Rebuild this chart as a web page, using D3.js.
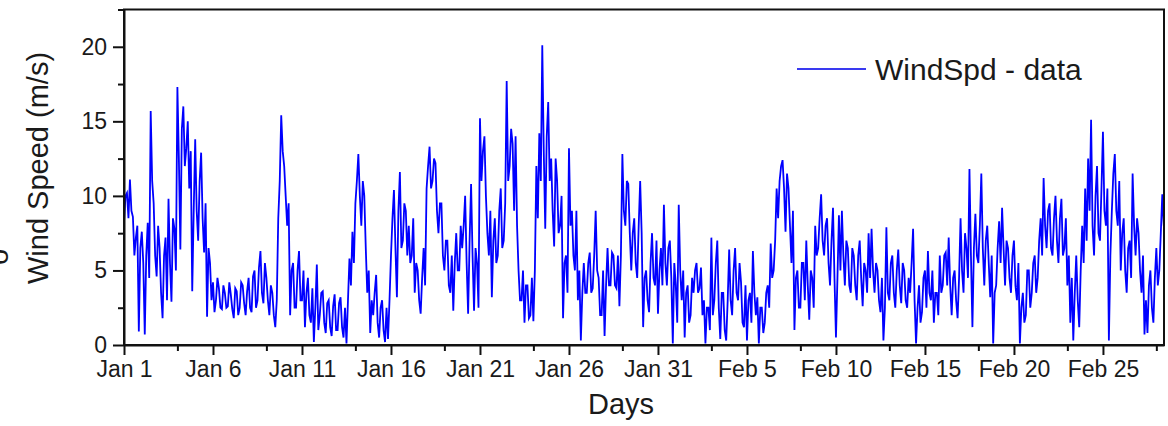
<!DOCTYPE html>
<html>
<head>
<meta charset="utf-8">
<script src="https://cdn.jsdelivr.net/npm/d3@7"></script>
<style>
  html, body { margin: 0; padding: 0; background: #fff; }
  text { font-family: "Liberation Sans", Arial, sans-serif; fill: #1a1a1a; }
</style>
</head>
<body>
<div id="chart"></div>
<script>
// wind speed, m/s, readings every 4 hours from Jan 1 00:00 (one row = one day)
let windSpeed = [
  8.2, 10.2, 11.1, 8.6, 7.2, 0.9,
  7.6, 0.7, 8.2, 15.7, 9.5, 4.6,
  6.5, 1.8, 7.2, 9.8, 2.9, 7.8,
  17.3, 6.4, 16.0, 13.2, 10.5, 3.6,
  13.8, 7.0, 12.9, 6.2, 1.9, 5.5,
  4.2, 3.0, 3.8, 2.4, 3.5, 2.6,
  3.4, 1.8, 3.6, 2.5, 4.0, 2.0,
  4.5, 2.2, 5.0, 3.0, 6.3, 2.8,
  4.5, 2.0, 3.5, 1.2, 8.5, 15.4,
  12.0, 8.0, 2.0, 5.5, 2.5, 6.3,
  3.0, 1.2, 4.5, 1.5, 0.2, 5.4,
  2.0, 3.6, 0.8, 3.0, 0.6, 3.4,
  1.0, 3.2, 0.5, 0.1, 5.8, 7.6,
  9.5, 12.8, 8.0, 10.0, 3.5, 0.8,
  2.0, 4.7, 0.5, 3.0, 0.2, 0.4,
  6.0, 10.4, 3.2, 11.6, 7.0, 9.0,
  8.0, 6.0, 3.5, 5.0, 2.1, 6.5,
  10.5, 13.3, 11.0, 12.2, 7.5, 9.5,
  5.0, 7.0, 3.5, 2.3, 7.5, 5.0,
  6.5, 10.0, 2.1, 10.8, 2.3, 5.5,
  15.2, 13.0, 10.0, 6.0, 3.2, 8.5,
  6.0, 10.5, 7.0, 17.7, 12.0, 13.5,
  14.0, 5.0, 3.0, 1.5, 4.0, 2.0,
  1.6, 12.0, 14.2, 20.1, 7.8, 16.3,
  12.5, 6.6, 11.0, 8.0, 1.8, 6.0,
  13.2, 9.0, 5.0, 3.0, 0.3, 5.5,
  3.5, 6.2, 3.8, 9.0, 4.5, 2.0,
  0.6, 6.5, 4.0, 6.0, 3.8, 2.6,
  12.8, 8.0, 10.8, 5.0, 8.5, 4.5,
  11.0, 1.2, 5.0, 2.2, 7.5, 4.0,
  2.1, 6.5, 9.4, 4.0, 7.0, 0.1,
  4.0, 9.4, 3.0, 0.5, 4.0, 2.0,
  3.5, 5.5, 3.8, 2.0, 0.1, 2.5,
  7.2, 3.0, 7.0, 0.4, 3.5, 0.3,
  6.4, 2.0, 6.5, 3.0, 4.2, 1.2,
  0.3, 3.5, 6.3, 2.0, 0.1, 2.5,
  1.5, 4.0, 6.8, 5.0, 10.5, 11.0,
  12.4, 7.6, 10.5, 5.5, 1.0, 5.0,
  2.5, 5.5, 7.0, 1.7, 4.5, 8.0,
  6.5, 10.1, 6.0, 8.5, 4.0, 9.2,
  0.5, 8.7, 9.0, 4.0, 6.5, 3.5,
  6.0, 3.0, 7.0, 2.6, 5.0, 7.5,
  7.8, 3.5, 5.0, 2.2, 0.3, 7.9,
  3.0, 6.0, 2.5, 6.4, 2.8, 5.0,
  2.5, 3.5, 7.8, 0.1, 4.0, 2.2,
  5.0, 6.3, 3.0, 1.5, 3.5, 6.0,
  4.0, 6.2, 7.2, 2.0, 5.0, 1.8,
  8.5, 3.5, 6.5, 11.8, 1.2, 8.8,
  5.5, 11.5, 4.0, 8.0, 3.2, 0.1,
  4.0, 8.3, 9.2, 4.0, 6.5, 3.5,
  7.0, 3.0, 0.1, 3.5, 2.0, 5.0,
  3.5, 6.0, 4.5, 8.5, 11.2, 6.5,
  9.5, 6.0, 10.0, 5.5, 9.8, 6.5,
  4.0, 1.5, 0.3, 6.0, 1.2, 8.0,
  10.5, 12.5, 15.1, 6.0, 12.0, 7.0,
  14.3, 8.0, 0.3, 9.0, 12.8, 8.0,
  5.0, 8.5, 3.5, 7.0, 11.5, 6.0,
  7.5, 3.5, 0.7, 0.8, 5.0, 1.5,
  6.5, 5.0, 10.1
];
// readings taken 2 hours after each of the above (same row layout)
let windSpeedMid = [
  10.0, 8.5, 9.0, 6.0, 8.0, 6.5,
  5.5, 6.0, 4.5, 11.0, 6.0, 8.0,
  3.5, 6.0, 3.0, 5.5, 8.5, 5.0,
  12.5, 14.5, 12.0, 15.0, 13.0, 9.0,
  9.0, 11.0, 8.5, 9.5, 6.5, 3.0,
  2.2, 4.5, 2.5, 4.0, 2.5, 4.2,
  2.4, 3.8, 2.0, 4.2, 2.8, 3.6,
  2.5, 4.6, 2.5, 5.2, 3.5, 5.5,
  3.0, 4.0, 2.0, 3.0, 11.0, 13.0,
  10.0, 9.5, 5.0, 2.5, 5.0, 3.0,
  5.0, 3.5, 2.0, 3.8, 2.5, 1.0,
  3.5, 1.5, 2.8, 1.2, 2.6, 1.0,
  2.8, 1.2, 2.5, 3.0, 4.0, 5.5,
  11.0, 10.0, 11.0, 6.5, 5.0, 3.0,
  3.5, 1.5, 2.5, 1.0, 2.5, 3.0,
  8.5, 6.5, 9.0, 6.5, 9.5, 6.0,
  5.5, 8.5, 5.5, 3.0, 4.5, 4.0,
  12.0, 10.5, 12.5, 9.0, 9.5, 6.0,
  7.0, 4.0, 6.0, 5.5, 5.0, 8.0,
  8.0, 5.5, 7.0, 6.0, 6.5, 2.5,
  11.0, 14.0, 7.5, 9.0, 7.0, 5.5,
  9.0, 6.5, 9.5, 11.0, 14.5, 9.0,
  8.0, 3.0, 5.0, 4.0, 1.8, 4.5,
  5.0, 8.5, 11.0, 13.0, 14.0, 11.0,
  9.0, 12.5, 7.5, 10.0, 5.5, 3.5,
  8.0, 6.0, 9.0, 5.0, 3.5, 3.5,
  5.5, 3.5, 6.0, 5.0, 2.0, 5.0,
  4.0, 4.0, 6.2, 4.0, 6.0, 6.0,
  9.0, 11.0, 7.5, 7.5, 5.5, 8.0,
  7.5, 4.5, 3.0, 5.5, 4.5, 7.0,
  5.0, 4.0, 5.5, 6.5, 4.5, 5.5,
  1.5, 5.0, 5.0, 3.5, 1.5, 4.5,
  5.0, 3.5, 5.2, 3.0, 2.5, 1.0,
  2.0, 5.5, 2.5, 3.5, 1.0, 3.0,
  3.0, 5.0, 3.5, 5.5, 1.5, 4.0,
  3.0, 1.5, 3.5, 3.2, 2.5, 0.8,
  3.5, 2.5, 4.5, 7.0, 8.5, 12.0,
  10.5, 11.5, 8.0, 9.0, 4.5, 2.5,
  5.5, 3.0, 4.0, 5.0, 2.5, 6.0,
  8.5, 7.0, 8.0, 5.5, 7.0, 4.5,
  4.5, 5.0, 6.0, 7.0, 4.0, 6.5,
  4.0, 6.0, 4.5, 5.5, 3.5, 4.5,
  5.0, 5.5, 3.0, 4.5, 2.5, 3.5,
  5.5, 3.5, 5.0, 4.0, 5.5, 3.0,
  4.5, 5.5, 3.0, 2.5, 1.5, 4.5,
  2.5, 3.5, 5.0, 3.5, 2.0, 3.5,
  6.0, 4.0, 4.0, 4.5, 3.0, 4.5,
  5.0, 7.5, 4.5, 6.0, 6.5, 6.0,
  8.0, 6.5, 7.0, 5.5, 6.0, 3.5,
  6.5, 5.5, 6.5, 7.0, 4.5, 6.0,
  4.0, 5.5, 2.5, 1.5, 5.0, 2.5,
  5.5, 3.5, 7.0, 6.0, 8.0, 9.0,
  6.5, 8.5, 7.0, 8.5, 6.0, 8.5,
  6.0, 4.5, 3.5, 3.0, 5.0, 5.5,
  7.0, 9.0, 8.0, 10.0, 7.5, 10.5,
  9.0, 10.5, 6.0, 11.5, 9.0, 11.0,
  7.5, 5.0, 6.5, 4.5, 8.0, 8.5,
  5.0, 6.0, 3.0, 4.0, 2.5, 4.5,
  4.0, 7.5, 8.0
];
let stepHours = 4;
let xMajorDays = [0, 5, 10, 15, 20, 25, 30, 35, 40, 45, 50, 55];
let xMinorDays = [3, 8, 13, 18, 23, 28, 33, 38, 43, 48, 53, 58];
let yMajor = [0, 5, 10, 15, 20];
let yMinor = [2.5, 7.5, 12.5, 17.5, 22.5];
let lastDay = 58.43;
let yTitle = 'Wind Speed (m/s)';
let xTitle = 'Days';
let legendLabel = 'WindSpd - data';

function makeGraph() {
    let w = 1168, h = 426;
    let left = 124, right = 1164, top = 9.5, bottom = 345;
    let day0 = Date.UTC(2013, 0, 1);
    let msDay = 86400000, msHour = 3600000;
    let dayDate = d => new Date(day0 + d * msDay);

    // merge the two reading sets in time order
    let dataset = [];
    windSpeed.forEach((v, i) => {
        dataset.push({date: new Date(day0 + i * stepHours * msHour), speed: v});
        if (i < windSpeedMid.length)
            dataset.push({date: new Date(day0 + (i * stepHours + stepHours / 2) * msHour), speed: windSpeedMid[i]});
    });

    let svg = d3.select('#chart')
        .append('svg')
        .attr('width', w)
        .attr('height', h);

    let xScale = d3.scaleUtc()
        .domain([dayDate(0), dayDate(lastDay)])
        .range([left, right]);

    let yScale = d3.scaleLinear()
        .domain([0, 22.5])
        .range([bottom, top]);

    svg.append('clipPath')
        .attr('id', 'plot-clip')
        .append('rect')
        .attr('x', left)
        .attr('y', top)
        .attr('width', right - left)
        .attr('height', bottom - top);

    let line = d3.line()
        .x(d => xScale(d.date))
        .y(d => yScale(d.speed));

    svg.append('path')
        .datum(dataset)
        .attr('clip-path', 'url(#plot-clip)')
        .attr('d', line)
        .attr('fill', 'none')
        .attr('stroke', '#0000ff')
        .attr('stroke-width', 1.8)
        .attr('stroke-linejoin', 'miter');

    // x axis, major + minor
    let xAxis = d3.axisBottom(xScale)
        .tickValues(xMajorDays.map(dayDate))
        .tickFormat(d3.utcFormat('%b %-d'))
        .tickSize(10)
        .tickSizeOuter(0)
        .tickPadding(6);
    let xg = svg.append('g')
        .attr('transform', `translate(0, ${bottom})`)
        .call(xAxis);
    xg.selectAll('text').style('font-size', '23px');

    svg.append('g')
        .attr('transform', `translate(0, ${bottom})`)
        .call(d3.axisBottom(xScale).tickValues(xMinorDays.map(dayDate)).tickSize(6).tickFormat('').tickSizeOuter(0))
        .select('.domain').remove();

    // y axis, major + minor
    let yg = svg.append('g')
        .attr('transform', `translate(${left}, 0)`)
        .call(d3.axisLeft(yScale).tickValues(yMajor).tickSize(11).tickSizeOuter(0).tickPadding(6));
    yg.selectAll('text').style('font-size', '23px');

    svg.append('g')
        .attr('transform', `translate(${left}, 0)`)
        .call(d3.axisLeft(yScale).tickValues(yMinor).tickSize(6).tickFormat('').tickSizeOuter(0))
        .select('.domain').remove();

    svg.selectAll('.domain, .tick line')
        .attr('stroke', '#111')
        .attr('stroke-width', 2);

    // frame
    svg.append('rect')
        .attr('x', left)
        .attr('y', top)
        .attr('width', right - left)
        .attr('height', bottom - top)
        .attr('fill', 'none')
        .attr('stroke', '#111')
        .attr('stroke-width', 2);

    svg.append('text')
        .attr('transform', `translate(48, 168) rotate(-90)`)
        .attr('text-anchor', 'middle')
        .style('font-size', '29px')
        .text(yTitle);

    svg.append('text')
        .attr('x', 621)
        .attr('y', 414)
        .attr('text-anchor', 'middle')
        .style('font-size', '29px')
        .text(xTitle);

    // leftover glyph of the neighbouring panel's label, cut by the edge as in the source
    svg.append('text')
        .attr('transform', `translate(8, 257) rotate(-90)`)
        .attr('text-anchor', 'middle')
        .style('font-size', '29px')
        .text('o');

    // legend
    svg.append('line')
        .attr('x1', 797)
        .attr('x2', 866)
        .attr('y1', 69)
        .attr('y2', 69)
        .attr('stroke', '#3a3af0')
        .attr('stroke-width', 2);

    svg.append('text')
        .attr('x', 875)
        .attr('y', 80)
        .style('font-size', '30px')
        .text(legendLabel);
}

window.onload = () => {
    makeGraph();
}
</script>
</body>
</html>
